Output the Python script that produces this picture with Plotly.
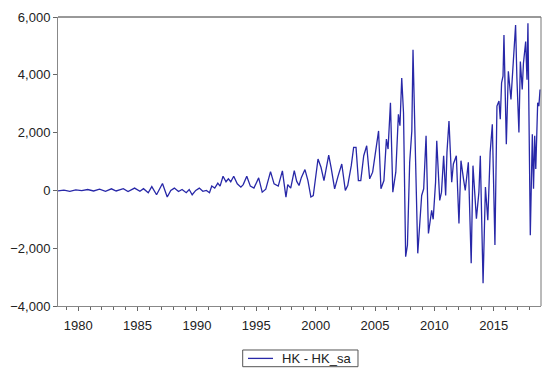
import plotly.graph_objects as go

years = [
    1978.3, 1978.8, 1979.3, 1979.8, 1980.3, 1980.8, 1981.3, 1981.8, 1982.3, 1982.8,
    1983.2, 1983.8, 1984.2, 1984.75, 1985.2, 1985.5, 1985.9, 1986.2, 1986.6, 1986.85,
    1987.1, 1987.5, 1987.8, 1988.1, 1988.45, 1988.75, 1989.1, 1989.35, 1989.6, 1989.9,
    1990.2, 1990.5, 1990.8, 1991.06, 1991.25, 1991.5, 1991.76, 1991.95, 1992.2, 1992.45,
    1992.65, 1992.85, 1993.1, 1993.4, 1993.7, 1993.9, 1994.2, 1994.5, 1994.8, 1995.2,
    1995.5, 1995.8, 1996.2, 1996.5, 1996.85, 1997.2, 1997.35, 1997.5, 1997.65, 1997.9,
    1998.2, 1998.4, 1998.6, 1998.8, 1999.1, 1999.35, 1999.6, 1999.8, 2000.2, 2000.45,
    2000.7, 2000.9, 2001.1, 2001.3, 2001.6, 2001.9, 2002.2, 2002.5, 2002.7, 2003.0,
    2003.2, 2003.4, 2003.6, 2003.8, 2004.05, 2004.3, 2004.55, 2004.8, 2005.05, 2005.3,
    2005.5, 2005.75, 2005.96, 2006.1, 2006.3, 2006.5, 2006.75, 2006.97, 2007.1, 2007.25,
    2007.4, 2007.58, 2007.73, 2007.92, 2008.1, 2008.2, 2008.42, 2008.6, 2008.76, 2008.93,
    2009.1, 2009.3, 2009.5, 2009.77, 2009.9, 2010.1, 2010.2, 2010.45, 2010.6, 2010.78,
    2010.95, 2011.06, 2011.23, 2011.46, 2011.6, 2011.85, 2012.07, 2012.24, 2012.45, 2012.6,
    2012.86, 2013.1, 2013.25, 2013.54, 2013.75, 2013.87, 2014.1, 2014.3, 2014.5, 2014.7,
    2014.88, 2015.1, 2015.27, 2015.44, 2015.55, 2015.66, 2015.78, 2015.86, 2016.06, 2016.23,
    2016.45, 2016.62, 2016.84, 2016.95, 2017.12, 2017.24, 2017.4, 2017.5, 2017.69, 2017.8,
    2017.88, 2018.08, 2018.25, 2018.35, 2018.45, 2018.54, 2018.7, 2018.8, 2018.9,
]

# HK - HK_sa values
hk_diff = [
    -20, 10, -30, 20, -10, 30, -20, 40, -30, 55,
    -20, 60, -40, 80, -30, 60, -80, 130, -150, 60,
    240, -230, 0, 80, -40, 30, -80, 30, -150, 0,
    80, -30, 0, -80, 150, 80, 250, 150, 490, 300,
    400, 300, 490, 227, 113, 200, 490, 147, 79, 433,
    -60, 40, 650, 227, 147, 673, 260, -230, 200, 80,
    685, 320, 170, 450, 720, 340, -230, -180, 1085, 800,
    340, 780, 1223, 800, 55, 510, 914, 0, 170, 856,
    1486, 1486, 340, 340, 1200, 1543, 400, 630, 1315, 2058,
    55, 340, 1773, 1430, 3034, -60, 630, 2632, 2240, 3890,
    2690, -2292, -1893, 972, 2058, 4866, 972, -2178, -1205, -175,
    55, 1887, -1491, -690, -1000, 285, 1715, -347, -60, 1200,
    -175, 1315, 2402, 285, 914, 1200, -1148, 1028, 400, 0,
    972, -2522, 856, -976, -60, 1200, -3209, 113, -1033, 1315,
    2288, -1893, 2917, 3090, 2460, 3720, 3950, 5380, 1600, 4120,
    3147, 4290, 5725, 3890, 2003, 4460, 3490, 4400, 5150, 3833,
    5780, -1548, 1945, 55, 1887, 742, 3034, 2917, 3490,
]

series_name = "HK - HK_sa"
y_ticks = [-4000, -2000, 0, 2000, 4000, 6000]
x_ticks = [1980, 1985, 1990, 1995, 2000, 2005, 2010, 2015]

FONT = "Liberation Sans, Arial, sans-serif"
LINE_COLOR = "#2828a8"

fig = go.Figure()
fig.add_trace(go.Scatter(
    x=years, y=hk_diff, mode="lines", name=series_name,
    line=dict(color=LINE_COLOR, width=1.3),
    showlegend=False,
))

# Compact boxed legend below the plot (drawn in paper coordinates)
legend_shapes = [
    dict(type="rect", xref="paper", yref="paper",
         x0=0.3824, x1=0.6211, y0=-0.210, y1=-0.1522,
         line=dict(color="#555555", width=1), fillcolor="white"),
    dict(type="line", xref="paper", yref="paper",
         x0=0.3934, x1=0.4451, y0=-0.1813, y1=-0.1813,
         line=dict(color=LINE_COLOR, width=1.3)),
]

fig.update_layout(
    width=542, height=370,
    margin=dict(l=58, r=1, t=17, b=64, autoexpand=False),
    paper_bgcolor="white", plot_bgcolor="white",
    font=dict(family=FONT, size=13, color="#222222"),
    showlegend=False,
    xaxis=dict(
        range=[1978.3, 2018.98],
        tickvals=x_ticks, ticktext=[str(v) for v in x_ticks],
        ticks="outside", ticklen=4, tickcolor="#666666",
        ticklabelstandoff=3,
        showline=True, linecolor="#888888", linewidth=1,
        showgrid=False, zeroline=False,
        minor=dict(dtick=1, tick0=1978, ticks="outside", ticklen=3, tickcolor="#666666"),
        tickfont=dict(size=13, color="#222222"),
    ),
    yaxis=dict(
        range=[-4000, 6000],
        tickvals=y_ticks, tickformat=",",
        ticks="outside", ticklen=4, tickcolor="#666666",
        showline=True, linecolor="#888888", linewidth=1,
        showgrid=False, zeroline=False,
        tickfont=dict(size=13, color="#222222"),
    ),
    shapes=[
        dict(type="line", xref="paper", yref="paper", x0=0, x1=1, y0=1, y1=1,
             line=dict(color="#333333", width=1)),
        dict(type="line", xref="paper", yref="paper", x0=1, x1=1, y0=0, y1=1,
             line=dict(color="#777777", width=1)),
    ] + legend_shapes,
    annotations=[
        dict(text=series_name, xref="paper", yref="paper",
             x=0.4596, y=-0.1813, xanchor="left", yanchor="middle",
             showarrow=False, font=dict(family=FONT, size=13, color="#222222")),
    ],
)

fig.write_html("out.html")
